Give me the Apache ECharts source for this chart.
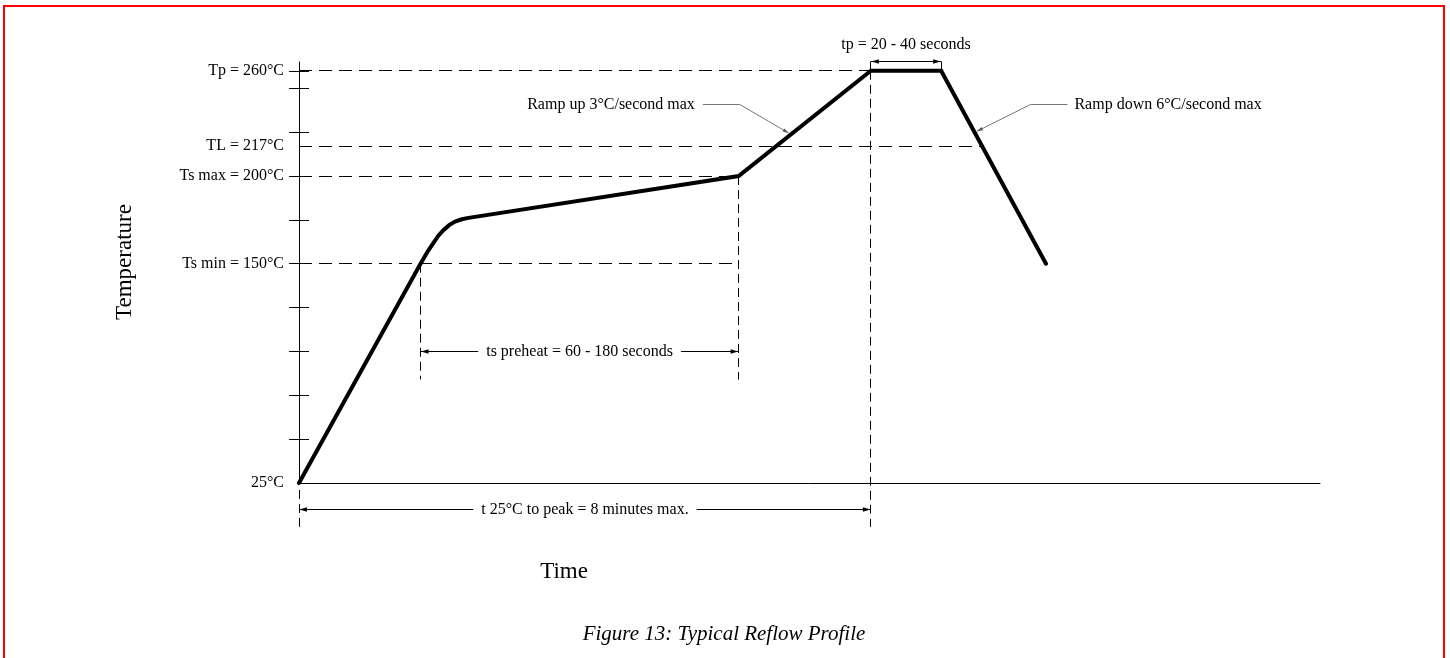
<!DOCTYPE html>
<html><head><meta charset="utf-8">
<script src="https://cdn.jsdelivr.net/npm/echarts@6/dist/echarts.min.js"></script>
<style>html,body{margin:0;padding:0;background:#fff}#c{width:1450px;height:658px}</style>
</head><body><div id="c"></div>
<script>
// ---- data (time in seconds, temperature in °C) ----
const profileTime = [0, 102, 108, 113, 117, 121, 126, 131, 136, 141, 369, 480, 539, 627];
const profileTemp = [25, 150, 157, 162, 166, 169, 172, 174, 175.2, 176, 200, 260, 260, 150];
const yTickValues = [50, 75, 100, 125, 150, 175, 200, 225, 250, 260];
const yLabelValues = [25, 150, 200, 217, 260];
const yLabelTexts = ['25°C', 'Ts min = 150°C', 'Ts max = 200°C', 'TL = 217°C', 'Tp = 260°C'];
const guideLevels = [260, 217, 200, 150];
const guideLevelEnds = [480, 573, 369, 369];
const guideTimes = [0, 102, 369, 480];
const guideTimeTops = [21, 150, 200, 260];
const guideTimeBottoms = [0, 84, 84, 0];
const spanStarts = [102, 0, 480];
const spanEnds = [369, 480, 539];
const spanLevels = [100, 10, 265];
const spanTexts = ['ts preheat = 60 - 180 seconds', 't 25°C to peak = 8 minutes max.', 'tp = 20 - 40 seconds'];
const noteTexts = ['Ramp up 3°C/second max', 'Ramp down 6°C/second max'];
const noteTextTime = [339, 645];
const noteElbowTime = [370, 614];
const noteLevel = [240.5, 240.5];
const noteTipTime = [411, 569];
const noteTipTemp = [224.5, 225.5];

const FONT = '"Liberation Serif", "Times New Roman", serif';
const crisp = v => Math.round(v - 0.5) + 0.5;

const chart = echarts.init(document.getElementById('c'), null, {renderer: 'canvas'});

const yBase = {
  type: 'value', min: 25, max: 265, position: 'left',
  splitLine: {show: false}
};

chart.setOption({
  animation: false,
  backgroundColor: '#fff',
  grid: {left: 299, right: 130, top: 62, bottom: 175, containLabel: false, outerBoundsMode: 'none'},
  xAxis: {
    type: 'value', min: 0, max: 857,
    axisLine: {show: true, onZero: false, lineStyle: {color: '#000', width: 1}},
    axisTick: {show: false}, axisLabel: {show: false}, splitLine: {show: false}
  },
  yAxis: [
    Object.assign({}, yBase, {
      axisLine: {show: true, lineStyle: {color: '#000', width: 1}},
      axisTick: {show: true, inside: false, length: 10, customValues: yTickValues, lineStyle: {color: '#000'}},
      axisLabel: {
        show: true, margin: 15, customValues: yLabelValues,
        color: '#000', fontFamily: FONT, fontSize: 16,
        formatter: v => { const i = yLabelValues.indexOf(v); return i >= 0 ? yLabelTexts[i] : ''; }
      }
    }),
    Object.assign({}, yBase, {
      axisLine: {show: false},
      axisTick: {show: true, inside: true, length: 10, customValues: yTickValues, lineStyle: {color: '#000'}},
      axisLabel: {show: false}
    })
  ],
  graphic: [
    {type: 'rect', shape: {x: 4, y: 6, width: 1440, height: 800}, style: {fill: null, stroke: '#f00', lineWidth: 2}, silent: true},
    {type: 'text', x: 125, y: 262, rotation: Math.PI / 2,
      style: {text: 'Temperature', fill: '#000', font: '23px ' + FONT, align: 'center', verticalAlign: 'middle'}},
    {type: 'text', x: 564, y: 572,
      style: {text: 'Time', fill: '#000', font: '23px ' + FONT, align: 'center', verticalAlign: 'middle'}},
    {type: 'text', x: 724, y: 634,
      style: {text: 'Figure 13: Typical Reflow Profile', fill: '#000', font: 'italic 21px ' + FONT, align: 'center', verticalAlign: 'middle'}}
  ],
  series: [
    { // horizontal dashed guides
      type: 'custom', coordinateSystem: 'cartesian2d', clip: false, silent: true, z: 1,
      data: guideLevels.map((T, i) => [0, guideLevelEnds[i], T]),
      encode: {x: [0, 1], y: 2},
      renderItem: (params, api) => {
        const a = api.coord([api.value(0), api.value(2)]);
        const b = api.coord([api.value(1), api.value(2)]);
        const y = crisp(a[1]);
        return {type: 'line', shape: {x1: a[0], y1: y, x2: b[0], y2: y},
          style: {stroke: '#000', lineWidth: 1, lineDash: [13, 7]}};
      }
    },
    { // vertical dashed guides
      type: 'custom', coordinateSystem: 'cartesian2d', clip: false, silent: true, z: 1,
      data: guideTimes.map((t, i) => [t, guideTimeTops[i], guideTimeBottoms[i]]),
      encode: {x: 0, y: [1, 2]},
      renderItem: (params, api) => {
        const a = api.coord([api.value(0), api.value(1)]);
        const b = api.coord([api.value(0), api.value(2)]);
        const x = crisp(a[0]);
        return {type: 'line', shape: {x1: x, y1: a[1], x2: x, y2: b[1]},
          style: {stroke: '#000', lineWidth: 1, lineDash: [9, 5]}};
      }
    },
    { // dimension spans with arrows
      type: 'custom', coordinateSystem: 'cartesian2d', clip: false, silent: true, z: 2,
      data: spanStarts.map((t, i) => [t, spanEnds[i], spanLevels[i]]),
      encode: {x: [0, 1], y: 2},
      renderItem: (params, api) => {
        const i = params.dataIndex;
        const a = api.coord([api.value(0), api.value(2)]);
        const b = api.coord([api.value(1), api.value(2)]);
        const y = crisp(a[1]);
        const x1 = a[0], x2 = b[0];
        const above = i === 2;
        const ch = [
          {type: 'line', shape: {x1: x1, y1: y, x2: x2, y2: y}, style: {stroke: '#000', lineWidth: 1}},
          {type: 'polygon', shape: {points: [[x1 + 0.5, y], [x1 + 8, y - 2.2], [x1 + 8, y + 2.2]]}, style: {fill: '#000'}},
          {type: 'polygon', shape: {points: [[x2 - 0.5, y], [x2 - 8, y - 2.2], [x2 - 8, y + 2.2]]}, style: {fill: '#000'}},
          {type: 'text', x: (x1 + x2) / 2, y: above ? y - 17 : y,
            style: {text: spanTexts[i], fill: '#000', font: '16px ' + FONT, align: 'center', verticalAlign: 'middle',
              backgroundColor: above ? 'transparent' : '#fff', padding: [0, 8]}}
        ];
        if (above) {
          const lo = api.coord([api.value(0), 260]);
          ch.push({type: 'line', shape: {x1: crisp(x1), y1: y, x2: crisp(x1), y2: lo[1]}, style: {stroke: '#000', lineWidth: 1}});
          ch.push({type: 'line', shape: {x1: crisp(x2), y1: y, x2: crisp(x2), y2: lo[1]}, style: {stroke: '#000', lineWidth: 1}});
        }
        return {type: 'group', children: ch};
      }
    },
    { // leader notes
      type: 'custom', coordinateSystem: 'cartesian2d', clip: false, silent: true, z: 2,
      data: noteTextTime.map((t, i) => [t, noteElbowTime[i], noteLevel[i], noteTipTime[i], noteTipTemp[i]]),
      encode: {x: [0, 1, 3], y: [2, 4]},
      renderItem: (params, api) => {
        const i = params.dataIndex;
        const p0 = api.coord([api.value(0), api.value(2)]);
        const p1 = api.coord([api.value(1), api.value(2)]);
        const p2 = api.coord([api.value(3), api.value(4)]);
        const y = crisp(p0[1]);
        const dx = p2[0] - p1[0], dy = p2[1] - y, len = Math.hypot(dx, dy);
        const ux = dx / len, uy = dy / len;
        const bx = p2[0] - ux * 6, by = p2[1] - uy * 6;
        const left = p0[0] < p1[0];
        return {type: 'group', children: [
          {type: 'polyline', shape: {points: [[p0[0], y], [p1[0], y], [p2[0], p2[1]]]}, style: {stroke: '#777', lineWidth: 1, fill: null}},
          {type: 'polygon', shape: {points: [[p2[0], p2[1]], [bx - uy * 1.8, by + ux * 1.8], [bx + uy * 1.8, by - ux * 1.8]]}, style: {fill: '#555'}},
          {type: 'text', x: left ? p0[0] - 8 : p0[0] + 7, y: y,
            style: {text: noteTexts[i], fill: '#000', font: '16px ' + FONT, align: left ? 'right' : 'left', verticalAlign: 'middle'}}
        ]};
      }
    },
    { // reflow profile
      type: 'line', name: 'Profile', z: 5,
      data: profileTime.map((t, i) => [t, profileTemp[i]]),
      showSymbol: false, symbol: 'none', smooth: false, clip: false,
      lineStyle: {color: '#000', width: 4, cap: 'round', join: 'miter'}
    }
  ]
});
</script>
</body></html>
